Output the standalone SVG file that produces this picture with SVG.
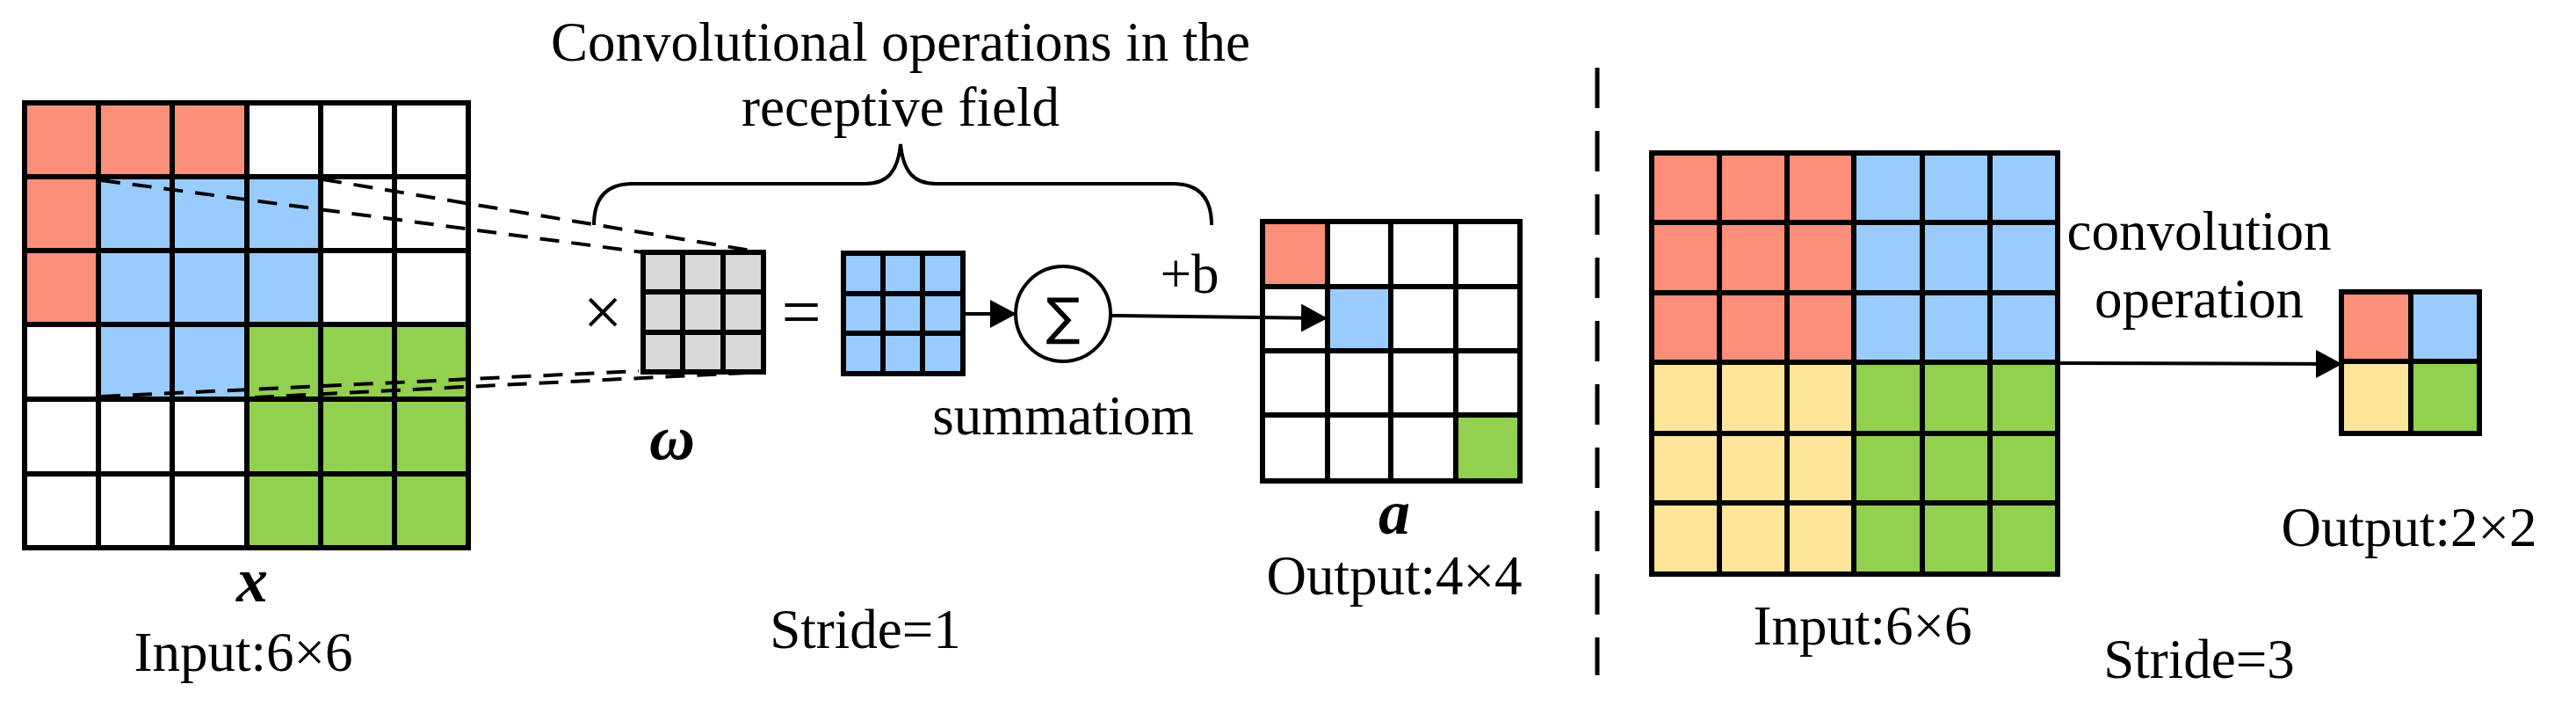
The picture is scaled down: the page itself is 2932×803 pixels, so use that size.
<svg xmlns="http://www.w3.org/2000/svg" width="2932" height="803" viewBox="0 0 2932 803">
<style>
text{font-family:"Liberation Serif","Times New Roman",serif;fill:#000}
.t{font-size:63px}
.bi{font-size:72px;font-weight:bold;font-style:italic}
.g{fill:none;stroke:#000;stroke-width:6}
.ln{fill:none;stroke:#000;stroke-width:4}
.d{fill:none;stroke:#000;stroke-width:4;stroke-dasharray:22 14}
.r{fill:#fc8f7a}.b{fill:#9acbfe}.gr{fill:#92d050}.y{fill:#fee599}.k{fill:#d9d9d9}
</style>
<defs>
<marker id="ah" markerWidth="30" markerHeight="32" refX="29" refY="16" orient="auto" markerUnits="userSpaceOnUse" viewBox="0 0 30 32"><path d="M0,0 L30,16 L0,32 Z" fill="#000"/></marker>
</defs>
<rect width="2932" height="803" fill="#fff"/>
<g id="input1">
<rect class="r" x="28" y="117" width="253" height="84"/>
<rect class="r" x="28" y="201" width="84" height="168"/>
<rect class="b" x="112" y="201" width="253" height="168"/>
<rect class="b" x="112" y="369" width="169" height="85"/>
<rect class="gr" x="281" y="369" width="252" height="254"/>
<path class="g" d="M28,117H533V623H28Z M112,117V623 M196,117V623 M281,117V623 M365,117V623 M449,117V623 M28,201H533 M28,285H533 M28,369H533 M28,454H533 M28,539H533"/>
<text class="bi" x="287" y="684" text-anchor="middle">x</text>
<text class="t" x="277" y="763" text-anchor="middle">Input:6×6</text>
</g>
<g id="kernel">
<rect class="k" x="732" y="287" width="137" height="136"/>
<path class="g" d="M732,287H869V423H732Z M777,287V423 M823,287V423 M732,332H869 M732,378H869"/>
<text x="686" y="382" text-anchor="middle" style="font-size:80px">×</text>
<text class="bi" x="765" y="522" text-anchor="middle">ω</text>
</g>
<g id="result">
<text x="912" y="382" text-anchor="middle" style="font-size:80px">=</text>
<rect class="b" x="960" y="288" width="136" height="137"/>
<path class="g" d="M960,288H1096V425H960Z M1005,288V425 M1050,288V425 M960,334H1096 M960,379H1096"/>
</g>
<g id="sum">
<circle class="ln" cx="1210" cy="357" r="54"/>
<text x="1210" y="380" text-anchor="middle" style="font-family:'DejaVu Sans',sans-serif;font-size:58px">∑</text>
<text class="t" x="1210" y="494" text-anchor="middle">summatiom</text>
<text class="t" x="1354" y="333" text-anchor="middle">+b</text>
</g>
<g id="brace">
<path class="ln" d="M676,256 C676,225 690,209 720,209 H985 C1010,209 1022,195 1025,164 C1028,195 1040,209 1065,209 H1335 C1365,209 1379,225 1379,256"/>
<text class="t" x="1025" y="69" text-anchor="middle">Convolutional operations in the</text>
<text class="t" x="1025" y="143" text-anchor="middle">receptive field</text>
</g>
<g id="output1">
<rect class="r" x="1437" y="252" width="74" height="74"/>
<rect class="b" x="1511" y="326" width="72" height="73"/>
<rect class="gr" x="1657" y="472" width="73" height="75"/>
<path class="g" d="M1437,252H1730V547H1437Z M1511,252V547 M1583,252V547 M1657,252V547 M1437,326H1730 M1437,399H1730 M1437,472H1730"/>
<text class="bi" x="1587" y="607" text-anchor="middle">a</text>
<text class="t" x="1587" y="676" text-anchor="middle">Output:4×4</text>
</g>
<text class="t" x="985" y="737" text-anchor="middle">Stride=1</text>
<g id="input2">
<rect class="r" x="1880" y="174" width="230" height="238"/>
<rect class="b" x="2110" y="174" width="232" height="238"/>
<rect class="y" x="1880" y="412" width="230" height="241"/>
<rect class="gr" x="2110" y="412" width="232" height="241"/>
<path class="g" d="M1880,174H2342V653H1880Z M1957,174V653 M2034,174V653 M2110,174V653 M2188,174V653 M2265,174V653 M1880,253H2342 M1880,333H2342 M1880,412H2342 M1880,493H2342 M1880,572H2342"/>
<text class="t" x="2120" y="733" text-anchor="middle">Input:6×6</text>
</g>
<g id="output2">
<rect class="r" x="2665" y="332" width="79" height="79"/>
<rect class="b" x="2744" y="332" width="78" height="79"/>
<rect class="y" x="2665" y="411" width="79" height="82"/>
<rect class="gr" x="2744" y="411" width="78" height="82"/>
<path class="g" d="M2665,332H2822V493H2665Z M2744,332V493 M2665,411H2822"/>
<text class="t" x="2742" y="621" text-anchor="middle">Output:2×2</text>
</g>
<text class="t" x="2503" y="284" text-anchor="middle">convolution</text>
<text class="t" x="2503" y="361" text-anchor="middle">operation</text>
<text class="t" x="2503" y="771" text-anchor="middle">Stride=3</text>
<g id="connectors">
<path class="d" d="M115,205 L732,287 M367,204 L867,287 M115,451 L727,422 M290,452 L869,423"/>
<path class="ln" d="M1096,357 H1156" marker-end="url(#ah)"/>
<path class="ln" d="M1264,359 L1510,362" marker-end="url(#ah)"/>
<path class="ln" d="M2342,413 L2665,414" marker-end="url(#ah)"/>
<path d="M1818,77 V768" style="fill:none;stroke:#000;stroke-width:5;stroke-dasharray:46 26"/>
</g>
</svg>
